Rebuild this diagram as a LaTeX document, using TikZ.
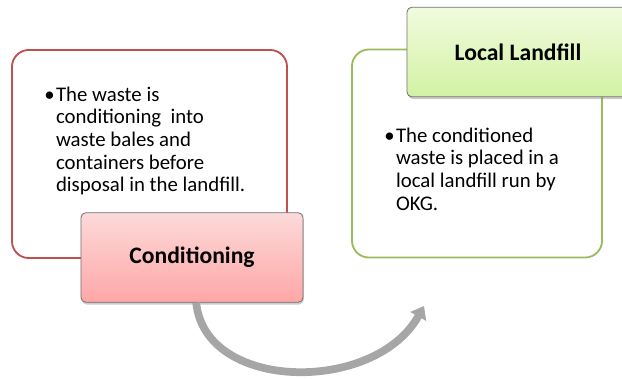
\documentclass[tikz,border=0pt]{standalone}
\usepackage{fontspec}
\setmainfont{Carlito}
\usepackage{tikz}
\usetikzlibrary{arrows.meta,shadows}
\definecolor{cred}{HTML}{C0504D}
\definecolor{cgreen}{HTML}{9BBB59}
\definecolor{credtop}{HTML}{FCDADA}
\definecolor{credbot}{HTML}{FFA6A6}
\definecolor{cgreentop}{HTML}{F1FBDE}
\definecolor{cgreenbot}{HTML}{D3F2A4}
\newcommand{\bodyfont}{\fontsize{14.8}{16.1}\selectfont}
\newcommand{\headfont}{\fontsize{16.8}{19}\selectfont\bfseries}

\begin{document}
\begin{tikzpicture}[x=0.025cm, y=-0.025cm,
    outerbox/.style={draw, line width=1.3pt, rounded corners=12pt,
        fill=white, minimum width=#1, minimum height=5.2cm},
    headbox/.style={draw=black!55, line width=0.6pt, rounded corners=3.5pt,
        minimum width=5.55cm, minimum height=2.24cm, font=\headfont,
        drop shadow={shadow xshift=0.6pt, shadow yshift=-1.6pt,
                     opacity=0.45, fill=black!45}},
    bullettext/.style={anchor=north west, inner sep=0pt, font=\bodyfont},
    flow/.style={line width=5.5pt, draw=black!35,
        -{Triangle[width=12.5pt,length=8.5pt]}}]
  \useasboundingbox (0,0) rectangle (622,378);

  % left panel
  \node[outerbox=6.875cm, draw=cred] (redbox) at (149.5,154) {};
  \node[bullettext] (redtext) at (44,85)
    {\begin{tabular}{@{}l@{\hspace{1pt}}l@{}}
       \textbullet & The waste is\\
                   & conditioning\ \ into\\
                   & waste bales and\\
                   & containers before\\
                   & disposal in the landfill.
     \end{tabular}};
  \node[headbox, top color=credtop, bottom color=credbot] (cond)
    at (192,257.5) {Conditioning};

  % right panel
  \node[outerbox=6.25cm, draw=cgreen] (greenbox) at (477,153.5) {};
  \node[bullettext] (greentext) at (384,126)
    {\begin{tabular}{@{}l@{\hspace{1pt}}l@{}}
       \textbullet & The conditioned\\
                   & waste is placed in a\\
                   & local landfill run by\\
                   & OKG.
     \end{tabular}};
  \node[headbox, top color=cgreentop, bottom color=cgreenbot] (landfill)
    at (518,52) {Local Landfill};

  % curved arrow
  \coordinate (arrowend) at (424,306);
  \draw[flow] ([xshift=3pt]cond.south) .. controls (205,392) and (375,394) .. (arrowend);
\end{tikzpicture}
\end{document}
